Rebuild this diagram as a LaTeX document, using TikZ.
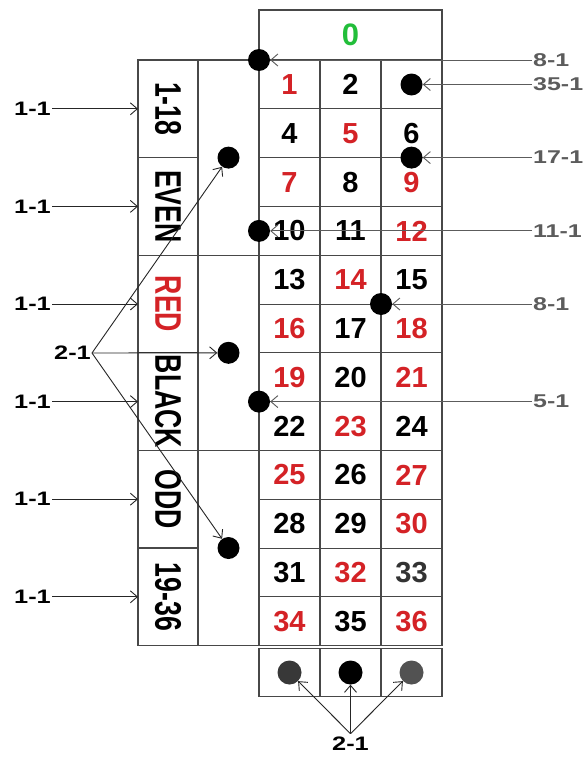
\documentclass[tikz,border=0pt]{standalone}
\usepackage{fontspec}
\setmainfont{Liberation Sans}
\usepackage{graphicx}
\definecolor{numred}{RGB}{212, 34, 38}
\definecolor{zerogreen}{RGB}{34, 190, 58}
\definecolor{linegray}{RGB}{72, 72, 72}
\definecolor{oddsgray}{RGB}{92, 92, 92}
\usetikzlibrary{arrows.meta, positioning}
\newcommand{\betname}[1]{\scalebox{0.72}[1]{\fontsize{37}{37}\selectfont\bfseries #1}}
\newcommand{\oddsR}[1]{\scalebox{1.35}[1]{\fontsize{18.5}{18.5}\selectfont\bfseries #1}}
\newcommand{\oddsL}[1]{\scalebox{1.3}[1]{\fontsize{19.5}{19.5}\selectfont\bfseries #1}}
\tikzset{
	numcell/.style={rectangle, draw=linegray, line width=1.1pt, minimum width=61pt, minimum height=48.8pt, inner sep=0pt, outer sep=0pt, font=\fontsize{29}{29}\selectfont\bfseries},
	sidecell/.style={rectangle, draw=linegray, line width=1.1pt, minimum width=60pt, minimum height=97.6pt, inner sep=0pt, outer sep=0pt},
	splitcell/.style={rectangle, draw=linegray, line width=1.1pt, minimum width=61pt, minimum height=195.2pt, inner sep=0pt, outer sep=0pt},
	zerocell/.style={rectangle, draw=linegray, line width=1.1pt, minimum width=183pt, minimum height=50pt, inner sep=0pt, outer sep=0pt, text=zerogreen, font=\fontsize{31}{31}\selectfont\bfseries},
	chip/.style={circle, fill=black, minimum size=22pt, inner sep=0pt},
	oddsright/.style={anchor=west, text=oddsgray, inner sep=1pt},
	oddsleft/.style={anchor=east, inner sep=1pt},
	arrow/.style={-{Straight Barb[length=7pt, width=12pt]}, line width=0.9pt, draw=black!85},
	softarrow/.style={-{Straight Barb[length=7pt, width=12pt]}, line width=0.9pt, draw=oddsgray},
}
\begin{document}
\begin{tikzpicture}[x=1pt, y=-1pt]
		\fill[white] (0,0) rectangle (587,760);
		\useasboundingbox (0,0) rectangle (587,760);
		% table
		\node[zerocell] (zero) at (350.5,35) {0};
		\foreach \n/\col in {1/numred,2/black,3/black,4/black,5/numred,6/black,7/numred,8/black,9/numred,
			10/black,11/black,12/numred,13/black,14/numred,15/black,16/numred,17/black,18/numred,
			19/numred,20/black,21/numred,22/black,23/numred,24/black,25/numred,26/black,27/numred,
			28/black,29/black,30/numred,31/black,32/numred,33/black!80,34/numred,35/black,36/numred}{
			\pgfmathsetmacro\cx{289.5+61*mod(\n-1,3)}
			\pgfmathsetmacro\cy{84.5+48.8*int((\n-1)/3)}
			\node[numcell, text=\col] (n\n) at (\cx,\cy) {\ifnum\n=3 \else\n\fi};
		}
		\node[numcell] (z1) at (289.5,672.5) {};
		\node[numcell] (z2) at (350.5,672.5) {};
		\node[numcell] (z3) at (411.5,672.5) {};
		% outside bets
		\node[sidecell] (low) at (168,108.8) {};
		\node[sidecell] (even) at (168,206.4) {};
		\node[sidecell] (red) at (168,304) {};
		\node[sidecell] (black) at (168,401.6) {};
		\node[sidecell] (odd) at (168,499.2) {};
		\node[sidecell] (high) at (168,596.8) {};
		\node[rotate=-90] at (low) {\betname{1-18}};
		\node[rotate=-90] at (even) {\betname{EVEN}};
		\node[rotate=-90, text=numred] at (red) {\betname{RED}};
		\node[rotate=-90] at (black) {\betname{BLACK}};
		\node[rotate=-90] at (odd) {\betname{ODD}};
		\node[rotate=-90] at (high) {\betname{19-36}};
		\node[splitcell] (d1) at (228.5,157.6) {};
		\node[splitcell] (d2) at (228.5,352.8) {};
		\node[splitcell] (d3) at (228.5,548) {};
		% chips
		\node[chip] (c81a) at (259,60) {};
		\node[chip] (c351) at (411.5,84.5) {};
		\node[chip] (c171) at (411.5,157.6) {};
		\node[chip] (c111) at (259,230.9) {};
		\node[chip] (c81b) at (381,304) {};
		\node[chip] (c51) at (259,401.6) {};
		\node[chip] (e1) at (d1) {};
		\node[chip] (e2) at (d2) {};
		\node[chip] (e3) at (d3) {};
		\node[chip, fill=black!78, minimum size=24pt] (b1) at (z1) {};
		\node[chip, minimum size=24pt] (b2) at (z2) {};
		\node[chip, fill=black!68, minimum size=24pt] (b3) at (z3) {};
		% odds
		\node[oddsright] (r81a) at (532,60) {\oddsR{8-1}};
		\node[oddsright] (r351) at (532,84.5) {\oddsR{35-1}};
		\node[oddsright] (r171) at (532,157.6) {\oddsR{17-1}};
		\node[oddsright] (r111) at (532,230.9) {\oddsR{11-1}};
		\node[oddsright] (r81b) at (532,304) {\oddsR{8-1}};
		\node[oddsright] (r51) at (532,401.6) {\oddsR{5-1}};
		\node[oddsleft] (l1) at (52,108.8) {\oddsL{1-1}};
		\node[oddsleft] (l2) at (52,206.4) {\oddsL{1-1}};
		\node[oddsleft] (l3) at (52,304) {\oddsL{1-1}};
		\node[oddsleft] (l4) at (52,401.6) {\oddsL{1-1}};
		\node[oddsleft] (l5) at (52,499.2) {\oddsL{1-1}};
		\node[oddsleft] (l6) at (52,596.8) {\oddsL{1-1}};
		\node[oddsleft] (dz) at (92,353) {\oddsL{2-1}};
		\node (col) at (350.5,744) {\oddsL{2-1}};
		\draw[softarrow] (r81a) -- (c81a);
		\draw[softarrow] (r351) -- (c351);
		\draw[softarrow] (r171) -- (c171);
		\draw[softarrow] (r111) -- (c111);
		\draw[softarrow] (r81b) -- (c81b);
		\draw[softarrow] (r51) -- (c51);
		\draw[arrow] (l1) -- (low);
		\draw[arrow] (l2) -- (even);
		\draw[arrow] (l3) -- (red);
		\draw[arrow] (l4) -- (black);
		\draw[arrow] (l5) -- (odd);
		\draw[arrow] (l6) -- (high);
		\draw[arrow] (dz.east) -- (e1);
		\draw[arrow] (dz.east) -- (e2);
		\draw[arrow] (dz.east) -- (e3);
		\draw[arrow] (col.north) -- (b1);
		\draw[arrow] (col.north) -- (b2);
		\draw[arrow] (col.north) -- (b3);
	\end{tikzpicture}
\end{document}
